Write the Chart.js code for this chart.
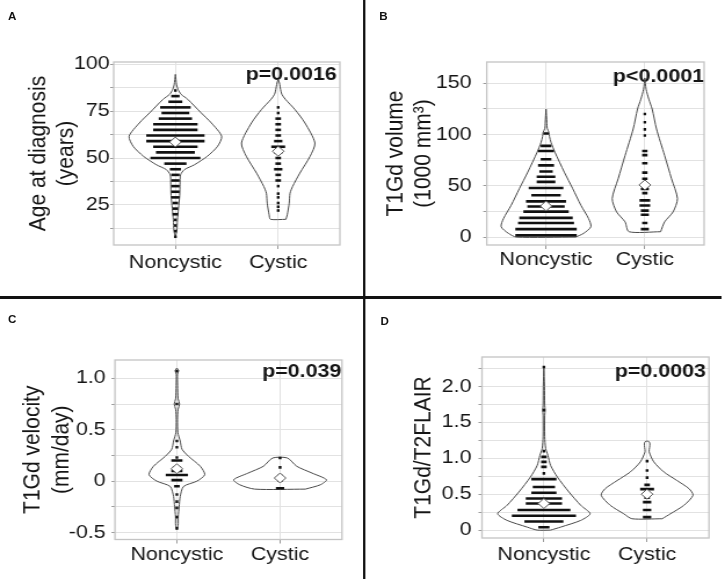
<!DOCTYPE html>
<html>
<head>
<meta charset="utf-8">
<script src="https://cdn.jsdelivr.net/npm/chart.js@4.4.1/dist/chart.umd.min.js"></script>
<style>
  html, body { margin: 0; padding: 0; background: #fff; overflow: hidden; }
  #figure { position: relative; width: 622px; height: 579px; transform: scaleX(1.16); transform-origin: 0 0;
            font-family: "Liberation Sans", Arial, sans-serif; }
  .panel { position: absolute; }
  .tag { position: absolute; font-weight: bold; font-size: 10px; line-height: 10px; color: #111; }
  .vline { position: absolute; left: 313px; top: 0; width: 2px; height: 579px; background: #111; }
  .hline { position: absolute; left: 0; top: 296px; width: 622px; height: 3px; background: #111; }
</style>
</head>
<body>
<div id="figure">
  <div class="panel" style="left:0;top:0;width:313px;height:295px"><canvas id="chartA"></canvas></div>
  <div class="panel" style="left:315px;top:0;width:307px;height:295px"><canvas id="chartB"></canvas></div>
  <div class="panel" style="left:0;top:299px;width:313px;height:280px"><canvas id="chartC"></canvas></div>
  <div class="panel" style="left:315px;top:299px;width:307px;height:280px"><canvas id="chartD"></canvas></div>
  <div class="vline"></div>
  <div class="hline"></div>
  <div class="tag" style="left:7px;top:12px">A</div>
  <div class="tag" style="left:327px;top:12px">B</div>
  <div class="tag" style="left:7px;top:315px">C</div>
  <div class="tag" style="left:328px;top:317px">D</div>
</div>
<script>
const categories = ['Noncystic', 'Cystic'];
const pValues = ['p=0.0016', 'p<0.0001', 'p=0.039', 'p=0.0003'];
const axisTitles = [['Age at diagnosis', '(years)'], ['T1Gd volume', '(1000 mm³)'], ['T1Gd velocity', '(mm/day)'], 'T1Gd/T2FLAIR'];

// y grid positions and their labels ('' = unlabeled minor line)
const ageTicks = [12.5, 25, 37.5, 50, 62.5, 75, 87.5, 100];
const ageTickLabels = ['', '25', '', '50', '', '75', '', '100'];
const volTicks = [0, 25, 50, 75, 100, 125, 150];
const volTickLabels = ['0', '', '50', '', '100', '', '150'];
const velTicks = [-0.5, -0.25, 0, 0.25, 0.5, 0.75, 1.0];
const velTickLabels = ['-0.5', '', '0', '', '0.5', '', '1.0'];
const ratioTicks = [0, 0.25, 0.5, 0.75, 1.0, 1.25, 1.5, 1.75, 2.0, 2.25];
const ratioTickLabels = ['0', '', '0.5', '', '1.0', '', '1.5', '', '2.0', ''];

// A: age at diagnosis (dot strips: level + number of dots; violin: level + half width)
const ageNonLevels = [8, 11, 14, 17, 20, 23, 26, 29, 32, 35, 38, 41, 44, 47, 50, 53, 56, 59, 62, 65, 68, 71, 74, 77, 80, 83, 86];
const ageNonCounts = [1, 1, 1, 1, 2, 2, 2, 3, 3, 3, 3, 3, 4, 8, 18, 14, 16, 21, 21, 16, 16, 12, 10, 11, 5, 3, 1];
const ageCysLevels = [22, 24, 26, 29, 31, 35, 38, 41, 44, 47, 50, 53, 56, 59, 62, 65, 68, 71, 74, 77];
const ageCysCounts = [1, 1, 1, 1, 1, 1, 2, 2, 3, 2, 2, 3, 5, 3, 2, 2, 2, 2, 1, 1];
const ageNonShapeY = [8, 11, 17, 23, 30, 36, 41, 43.8, 46.4, 50.9, 56.2, 61.6, 68.7, 74.1, 81.3, 84, 86.6, 89, 94.6];
const ageNonShapeW = [0, 0.014, 0.02, 0.03, 0.042, 0.045, 0.05, 0.088, 0.185, 0.31, 0.41, 0.45, 0.35, 0.25, 0.12, 0.055, 0.026, 0.012, 0];
const ageCysShapeY = [17.3, 19.7, 25.9, 31.2, 34.8, 41.9, 50.9, 58, 68.7, 75.9, 81.3, 84, 86.6, 90, 92];
const ageCysShapeW = [0.075, 0.088, 0.107, 0.115, 0.14, 0.21, 0.31, 0.357, 0.26, 0.162, 0.07, 0.035, 0.023, 0.012, 0];
const ageMeans = [58.5, 53.6];

// B: T1Gd volume
const volNonLevels = [2, 8, 14, 19, 25, 30, 35, 41, 48, 54, 59, 64, 70, 76, 84, 89, 101];
const volNonCounts = [23, 23, 21, 20, 17, 14, 15, 11, 13, 7, 7, 5, 6, 4, 6, 4, 2];
const volCysLevels = [8, 14, 22, 26, 31, 36, 43, 47, 52, 57, 63, 72, 80, 84, 99, 105, 112, 120];
const volCysCounts = [3, 2, 3, 3, 4, 4, 2, 3, 2, 2, 2, 2, 2, 2, 1, 1, 1, 1];
const volNonShapeY = [0.3, 3.9, 10.3, 18.4, 31.2, 47.4, 63.4, 82.8, 92.5, 98, 102, 106, 112, 124.7];
const volNonShapeW = [0.3, 0.38, 0.454, 0.43, 0.353, 0.27, 0.185, 0.09, 0.05, 0.035, 0.03, 0.012, 0.008, 0];
const volCysShapeY = [5.5, 15.1, 24.8, 37.7, 57, 79.6, 105.4, 124.8, 134.4, 144, 155];
const volCysShapeW = [0.16, 0.2, 0.286, 0.33, 0.27, 0.2, 0.118, 0.074, 0.04, 0.013, 0];
const volMeans = [30.5, 51];

// C: T1Gd velocity
const velNonLevels = [-0.46, -0.35, -0.26, -0.2, -0.13, -0.05, 0.01, 0.06, 0.1, 0.13, 0.2, 0.23, 0.33, 0.39, 0.75, 1.07];
const velNonCounts = [1, 1, 1, 1, 1, 2, 4, 8, 4, 3, 4, 1, 1, 1, 1, 1];
const velCysLevels = [-0.069, 0.007, 0.05, 0.134, 0.225];
const velCysCounts = [3, 2, 2, 1, 1];
const velNonShapeY = [-0.47, -0.43, -0.346, -0.25, -0.15, -0.052, 0, 0.062, 0.144, 0.24, 0.31, 0.39, 0.47, 0.6, 0.7, 0.75, 0.8, 0.93, 1.04, 1.075, 1.1];
const velNonShapeW = [0, 0.012, 0.013, 0.022, 0.032, 0.065, 0.195, 0.27, 0.227, 0.114, 0.05, 0.032, 0.01, 0.006, 0.012, 0.026, 0.012, 0.007, 0.006, 0.017, 0];
const velCysShapeY = [-0.078, -0.036, 0.013, 0.078, 0.144, 0.225];
const velCysShapeW = [0.245, 0.39, 0.45, 0.31, 0.162, 0.071];
const velMeans = [0.12, 0.03];

// D: T1Gd/T2FLAIR
const ratioNonLevels = [0.04, 0.12, 0.2, 0.28, 0.37, 0.44, 0.52, 0.6, 0.71, 0.79, 0.88, 0.95, 1.02, 1.1, 1.67, 2.27];
const ratioNonCounts = [4, 14, 23, 19, 13, 13, 9, 8, 9, 1, 2, 2, 2, 1, 1, 1];
const ratioCysLevels = [0.18, 0.28, 0.39, 0.45, 0.51, 0.57, 0.63, 0.73, 0.83, 0.96];
const ratioCysCounts = [3, 3, 3, 2, 2, 5, 2, 1, 1, 1];
const ratioNonShapeY = [0, 0.042, 0.135, 0.228, 0.345, 0.53, 0.74, 0.9, 1.04, 1.135, 1.3, 1.6, 1.67, 1.74, 2.0, 2.28];
const ratioNonShapeW = [0.065, 0.163, 0.357, 0.448, 0.357, 0.243, 0.13, 0.065, 0.039, 0.017, 0.008, 0.008, 0.012, 0.008, 0.006, 0];
const ratioCysShapeY = [0.158, 0.228, 0.345, 0.485, 0.577, 0.69, 0.81, 0.95, 1.09, 1.15, 1.2, 1.23, 1.24];
const ratioCysShapeW = [0.146, 0.227, 0.357, 0.445, 0.406, 0.29, 0.162, 0.065, 0.02, 0.024, 0.027, 0.02, 0];
const ratioMeans = [0.37, 0.5];

const dotStep = 0.027;
const fontFamily = '"Liberation Sans", Arial, sans-serif';
const gridColor = '#e2e2e2';
const inkColor = '#151515';

const panels = [
  { canvas: 'chartA', strips: [[ageNonLevels, ageNonCounts], [ageCysLevels, ageCysCounts]],
    shapes: [[ageNonShapeY, ageNonShapeW], [ageCysShapeY, ageCysShapeW]], means: ageMeans,
    ticks: ageTicks, tickLabels: ageTickLabels, yMin: 3.6, yMax: 101.2,
    yWidth: 98, padRight: 20, padTop: 62, xHeight: 50, titlePad: 20.7, yTickPad: 0.5, xTickPad: 3, pDx: 2.6, pDy: 18 },
  { canvas: 'chartB', strips: [[volNonLevels, volNonCounts], [volCysLevels, volCysCounts]],
    shapes: [[volNonShapeY, volNonShapeW], [volCysShapeY, volCysShapeW]], means: volMeans,
    ticks: volTicks, tickLabels: volTickLabels, yMin: -7.4, yMax: 170.5,
    yWidth: 104.6, padRight: 15, padTop: 62, xHeight: 50, titlePad: 14.3, yTickPad: 10, xTickPad: 0, pDx: 0, pDy: 19.7 },
  { canvas: 'chartC', strips: [[velNonLevels, velNonCounts], [velCysLevels, velCysCounts]],
    shapes: [[velNonShapeY, velNonShapeW], [velCysShapeY, velCysShapeW]], means: velMeans,
    ticks: velTicks, tickLabels: velTickLabels, yMin: -0.568, yMax: 1.178,
    yWidth: 99.1, padRight: 18.2, padTop: 61, xHeight: 39.5, titlePad: 16.6, yTickPad: 5, xTickPad: 0, pDx: 0.5, pDy: 16.7 },
  { canvas: 'chartD', strips: [[ratioNonLevels, ratioNonCounts], [ratioCysLevels, ratioCysCounts]],
    shapes: [[ratioNonShapeY, ratioNonShapeW], [ratioCysShapeY, ratioCysShapeW]], means: ratioMeans,
    ticks: ratioTicks, tickLabels: ratioTickLabels, yMin: -0.11, yMax: 2.41,
    yWidth: 100.5, padRight: 10.8, padTop: 58, xHeight: 41, titlePad: 37.8, yTickPad: 6, xTickPad: 2, pDx: 2.6, pDy: 19.7 }
];

function violinOutline(center, ys, ws) {
  const right = ys.map((y, i) => ({ x: center + ws[i], y }));
  const left = ys.map((y, i) => ({ x: center - ws[i], y })).reverse();
  return right.concat(left, [right[0]]);
}

function buildDatasets(p) {
  const sets = [];
  p.means.forEach((m, g) => sets.push({
    data: [{ x: g + 1, y: m }], showLine: false, pointStyle: 'rectRot', pointRadius: 5,
    pointBackgroundColor: '#fff', pointBorderColor: '#555', pointBorderWidth: 1, order: 0
  }));
  p.strips.forEach(([levels, counts], g) => levels.forEach((y, i) => {
    const half = counts[i] * dotStep / 2;
    sets.push({
      data: [{ x: g + 1 - half, y }, { x: g + 1 + half, y }], showLine: true,
      borderColor: '#111', borderWidth: 2.6, borderCapStyle: 'butt', pointRadius: 0, order: 1
    });
  }));
  p.shapes.forEach(([ys, ws], g) => sets.push({
    data: violinOutline(g + 1, ys, ws), showLine: true, borderColor: '#4a4a4a', borderWidth: 1,
    pointRadius: 0, tension: 0.25, order: 2
  }));
  return sets;
}

// plot frame and the p value label
const framePlugin = {
  id: 'frame',
  beforeDatasetsDraw(chart, args, opts) {
    const { ctx, chartArea } = chart;
    ctx.save();
    ctx.font = 'bold 18.5px ' + fontFamily;
    ctx.fillStyle = inkColor;
    ctx.textAlign = 'right';
    ctx.textBaseline = 'alphabetic';
    ctx.fillText(opts.text, chartArea.right - opts.dx, chartArea.top + opts.dy);
    ctx.restore();
  },
  afterDraw(chart) {
    const { ctx, chartArea: a } = chart;
    ctx.save();
    ctx.strokeStyle = '#c4c4c4';
    ctx.lineWidth = 1.3;
    ctx.strokeRect(a.left, a.top, a.right - a.left, a.bottom - a.top);
    ctx.restore();
  }
};

panels.forEach((p, k) => {
  new Chart(document.getElementById(p.canvas), {
    type: 'scatter',
    data: { datasets: buildDatasets(p) },
    plugins: [framePlugin],
    options: {
      responsive: true,
      maintainAspectRatio: false,
      animation: false,
      events: [],
      layout: { padding: { left: 0, right: p.padRight, top: p.padTop, bottom: 0 } },
      plugins: {
        legend: { display: false },
        tooltip: { enabled: false },
        frame: { text: pValues[k], dx: p.pDx, dy: p.pDy }
      },
      scales: {
        x: {
          type: 'linear', min: 0.4, max: 2.6, bounds: 'data',
          afterBuildTicks: s => { s.ticks = categories.map((c, i) => ({ value: i + 1 })); },
          afterFit: s => { s.height = p.xHeight; },
          grid: { color: gridColor, tickLength: 4, tickColor: '#9a9a9a' },
          border: { display: false },
          ticks: {
            callback: (v, i) => categories[i], autoSkip: false, maxRotation: 0,
            font: { family: fontFamily, size: 18.5 }, color: inkColor, padding: p.xTickPad
          }
        },
        y: {
          type: 'linear', min: p.yMin, max: p.yMax, bounds: 'data',
          afterBuildTicks: s => { s.ticks = p.ticks.map(v => ({ value: v })); },
          afterFit: s => { s.width = p.yWidth; },
          grid: { color: gridColor, tickLength: 3, tickColor: '#9a9a9a' },
          border: { display: false },
          ticks: {
            autoSkip: false,
            callback: (v, i) => p.tickLabels[i],
            font: { family: fontFamily, size: 18.5 }, color: inkColor, padding: p.yTickPad
          },
          title: {
            display: true, text: axisTitles[k], color: inkColor,
            font: { family: fontFamily, size: 21, lineHeight: 1.15 },
            padding: { top: p.titlePad, bottom: 0 }
          }
        }
      }
    }
  });
});
</script>
</body>
</html>
